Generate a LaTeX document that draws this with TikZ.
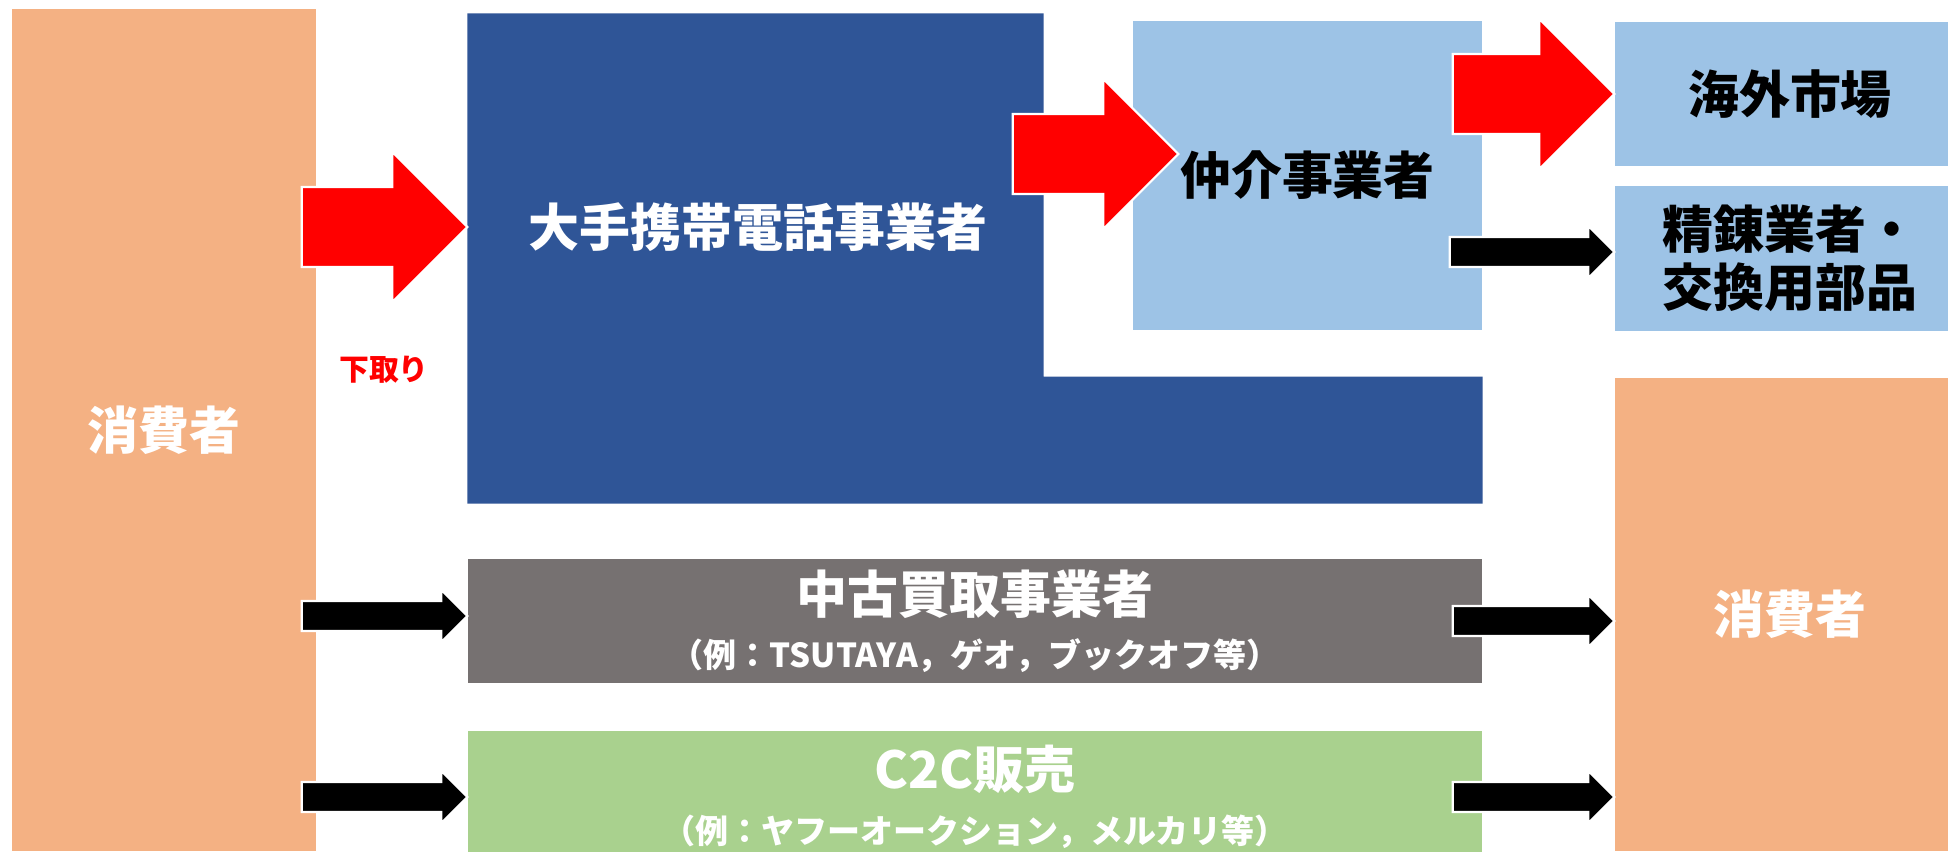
\documentclass[tikz,border=0pt]{standalone}
\usepackage{fontspec}
\setmainfont{Noto Sans CJK JP}
\usepackage{xcolor}
\usepackage{tikz}
\usetikzlibrary{positioning,calc}

\definecolor{consorange}{HTML}{F4B183}
\definecolor{carrierblue}{HTML}{2F5597}
\definecolor{brokerblue}{HTML}{9DC3E6}
\definecolor{usedgray}{HTML}{767171}
\definecolor{cgreen}{HTML}{A9D18E}

\newcommand{\blockarrow}[5]{%
  \filldraw[fill=#1, draw=white, line width=0.6pt] let \p1=(#4), \p2=(#5) in
    (\x1,\y2+#2) -- (\x2-#3,\y2+#2) -- (\x2-#3,\y2+#3) -- (\x2,\y2)
    -- (\x2-#3,\y2-#3) -- (\x2-#3,\y2-#2) -- (\x1,\y2-#2) -- cycle;
}

\begin{document}
\begin{tikzpicture}[
    box/.style={rectangle, inner sep=0pt, align=center, text=white, font=\bfseries\fontsize{14.5}{16.5}\selectfont},
    sub/.style={font=\bfseries\fontsize{9.4}{11}\selectfont}]
    \useasboundingbox (0,0) rectangle (19.48,-8.51);
    \clip (0,0) rectangle (19.48,-8.51);
    \node[box, fill=consorange, minimum width=3.04cm, minimum height=8.42cm] (consL) at (1.64,-4.30) {消費者};
    \node[box, minimum width=5.75cm, minimum height=4.89cm] (carrier) at (7.555,-2.585) {};
    \fill[carrierblue] (carrier.south west) |- (carrier.north east) |- ([shift={(4.39,1.27)}]carrier.south east) |- (carrier.south west) -- cycle;
    \node[box, fill=brokerblue, text=black, minimum width=3.49cm, minimum height=3.09cm] (broker) at (13.075,-1.755) {仲介事業者};
    \node[box, fill=brokerblue, text=black, minimum width=3.50cm, minimum height=1.44cm] (overseas) at (17.90,-0.94) {海外市場};
    \node[box, fill=brokerblue, text=black, minimum width=3.50cm, minimum height=1.45cm] (refiner) at (17.90,-2.585) {精錬業者・\\交換用部品};
    \node[box, fill=consorange, minimum width=3.50cm, minimum height=4.73cm] (consR) at (17.90,-6.145) {消費者};
    \node[box, fill=usedgray, minimum width=10.14cm, minimum height=1.24cm] (usedshop) at (9.75,-6.21)
        {中古買取事業者\\[-1pt]{\bfseries\fontsize{9.4}{11}\selectfont （例：TSUTAYA，ゲオ，ブックオフ等）}};
    \node[box, fill=cgreen, minimum width=10.14cm, minimum height=1.32cm] (c2c) at (9.75,-7.97)
        {C2C販売\\[-1pt]{\bfseries\fontsize{9.4}{11}\selectfont （例：ヤフーオークション，メルカリ等）}};
    \node[box] (carrierlbl) at (7.58,-2.27) {大手携帯電話事業者};
    \node[box, text=red, font=\bfseries\fontsize{8.5}{10}\selectfont] (trade) at (3.84,-3.70) {下取り};
    \blockarrow{red}{0.40cm}{0.75cm}{[xshift=-0.15cm]consL.east}{carrier.west |- carrierlbl.center}
    \blockarrow{red}{0.40cm}{0.75cm}{[xshift=-0.31cm]carrier.north east}{[shift={(0.46,0.215)}]broker.west}
    \blockarrow{red}{0.40cm}{0.75cm}{[xshift=-0.30cm]broker.east}{overseas.west}
    \blockarrow{black}{0.15cm}{0.26cm}{[xshift=-0.33cm]broker.east}{[yshift=0.065cm]refiner.west}
    \blockarrow{black}{0.15cm}{0.26cm}{[xshift=-0.15cm]consL.east}{[yshift=0.05cm]usedshop.west}
    \blockarrow{black}{0.15cm}{0.26cm}{[xshift=-0.15cm]consL.east}{c2c.west}
    \blockarrow{black}{0.15cm}{0.26cm}{[xshift=-0.30cm]usedshop.east}{consR.west |- usedshop.east}
    \blockarrow{black}{0.15cm}{0.26cm}{[xshift=-0.30cm]c2c.east}{consR.west |- c2c.east}
\end{tikzpicture}
\end{document}
